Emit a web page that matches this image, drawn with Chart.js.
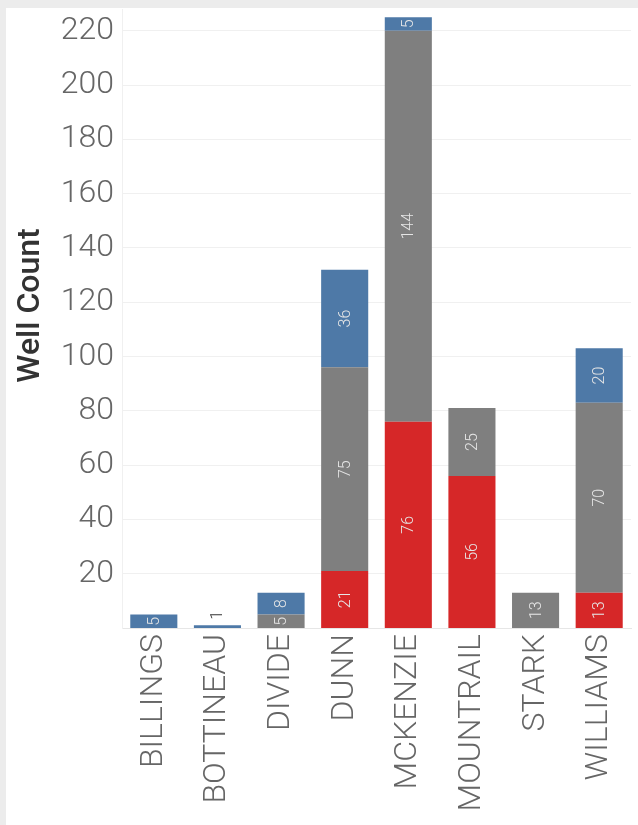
<!DOCTYPE html>
<html>
<head>
<meta charset="utf-8">
<script src="https://cdn.jsdelivr.net/npm/chart.js@4/dist/chart.umd.min.js"></script>
<style>
  html, body { margin: 0; padding: 0; background: #ececec; }
  #wrap { position: absolute; left: 6px; top: 8px; width: 632px; height: 817px; background: #fff; }
</style>
</head>
<body>
<div id="wrap"><canvas id="chart" width="632" height="817"></canvas></div>
<script>
// counties along the x axis
const counties = ['BILLINGS', 'BOTTINEAU', 'DIVIDE', 'DUNN', 'MCKENZIE', 'MOUNTRAIL', 'STARK', 'WILLIAMS'];
// stacked segments, bottom to top
const redWells = [0, 0, 0, 21, 76, 56, 0, 13];
const grayWells = [0, 0, 5, 75, 144, 25, 13, 70];
const blueWells = [5, 1, 8, 36, 5, 0, 0, 20];
const yTicks = [20, 40, 60, 80, 100, 120, 140, 160, 180, 200, 220];
const yTitle = 'Well Count';

const font = 'Roboto, "Open Sans", sans-serif';

// draw the value inside each segment, turned on its side
const segmentLabels = {
  id: 'segmentLabels',
  afterDatasetsDraw(chart) {
    const ctx = chart.ctx;
    ctx.save();
    ctx.font = '300 16px ' + font;
    ctx.textAlign = 'center';
    ctx.textBaseline = 'middle';
    chart.data.datasets.forEach((ds, di) => {
      chart.getDatasetMeta(di).data.forEach((bar, i) => {
        const v = ds.data[i];
        if (!v) return;
        const top = Math.min(bar.y, bar.base);
        const h = Math.abs(bar.base - bar.y);
        let y = top + h / 2;
        ctx.fillStyle = '#e6e6e6';
        if (h < 8) {
          y = top - 10;
          ctx.fillStyle = '#333';
        }
        ctx.save();
        ctx.translate(bar.x, y);
        ctx.rotate(-Math.PI / 2);
        ctx.fillText(String(v), 0, 1);
        ctx.restore();
      });
    });
    ctx.restore();
  }
};

// axis title, placed a little above the plot's middle like the original
const axisTitle = {
  id: 'axisTitle',
  afterDraw(chart) {
    const ctx = chart.ctx;
    const y = chart.scales.y;
    ctx.save();
    ctx.font = '500 32px ' + font;
    ctx.fillStyle = '#333';
    ctx.textAlign = 'center';
    ctx.textBaseline = 'middle';
    ctx.translate(y.left + 25, (y.top + y.bottom) / 2 - 13);
    ctx.rotate(-Math.PI / 2);
    ctx.fillText(yTitle, 0, 0);
    ctx.restore();
  }
};

new Chart(document.getElementById('chart'), {
  type: 'bar',
  data: {
    labels: counties,
    datasets: [
      { label: 'red', data: redWells, backgroundColor: '#d62728' },
      { label: 'gray', data: grayWells, backgroundColor: '#7f7f7f' },
      { label: 'blue', data: blueWells, backgroundColor: '#4e79a7' }
    ]
  },
  options: {
    responsive: false,
    animation: false,
    layout: { padding: { top: 1, right: 7, bottom: 0, left: 0 } },
    plugins: { legend: { display: false }, tooltip: { enabled: false } },
    datasets: { bar: { categoryPercentage: 0.74, barPercentage: 1 } },
    scales: {
      x: {
        stacked: true,
        grid: { display: false },
        border: { color: '#e6e6e6' },
        ticks: {
          minRotation: 90, maxRotation: 90, autoSkip: false, padding: -2,
          color: '#666', font: { family: font, size: 32, weight: 300 }
        },
        afterFit(scale) { scale.height = 197; scale.paddingLeft = 0; scale.paddingRight = 0; }
      },
      y: {
        stacked: true,
        min: 0,
        max: 228,
        afterBuildTicks(scale) { scale.ticks = yTicks.map(v => ({ value: v })); },
        grid: { color: '#f0f0f0', drawTicks: false },
        border: { display: true, color: '#f0f0f0' },
        ticks: { padding: 8, color: '#666', font: { family: font, size: 32, weight: 300 } },
        afterFit(scale) { scale.width = 116; scale.paddingTop = 0; scale.paddingBottom = 0; }
      }
    }
  },
  plugins: [segmentLabels, axisTitle]
});
</script>
</body>
</html>
